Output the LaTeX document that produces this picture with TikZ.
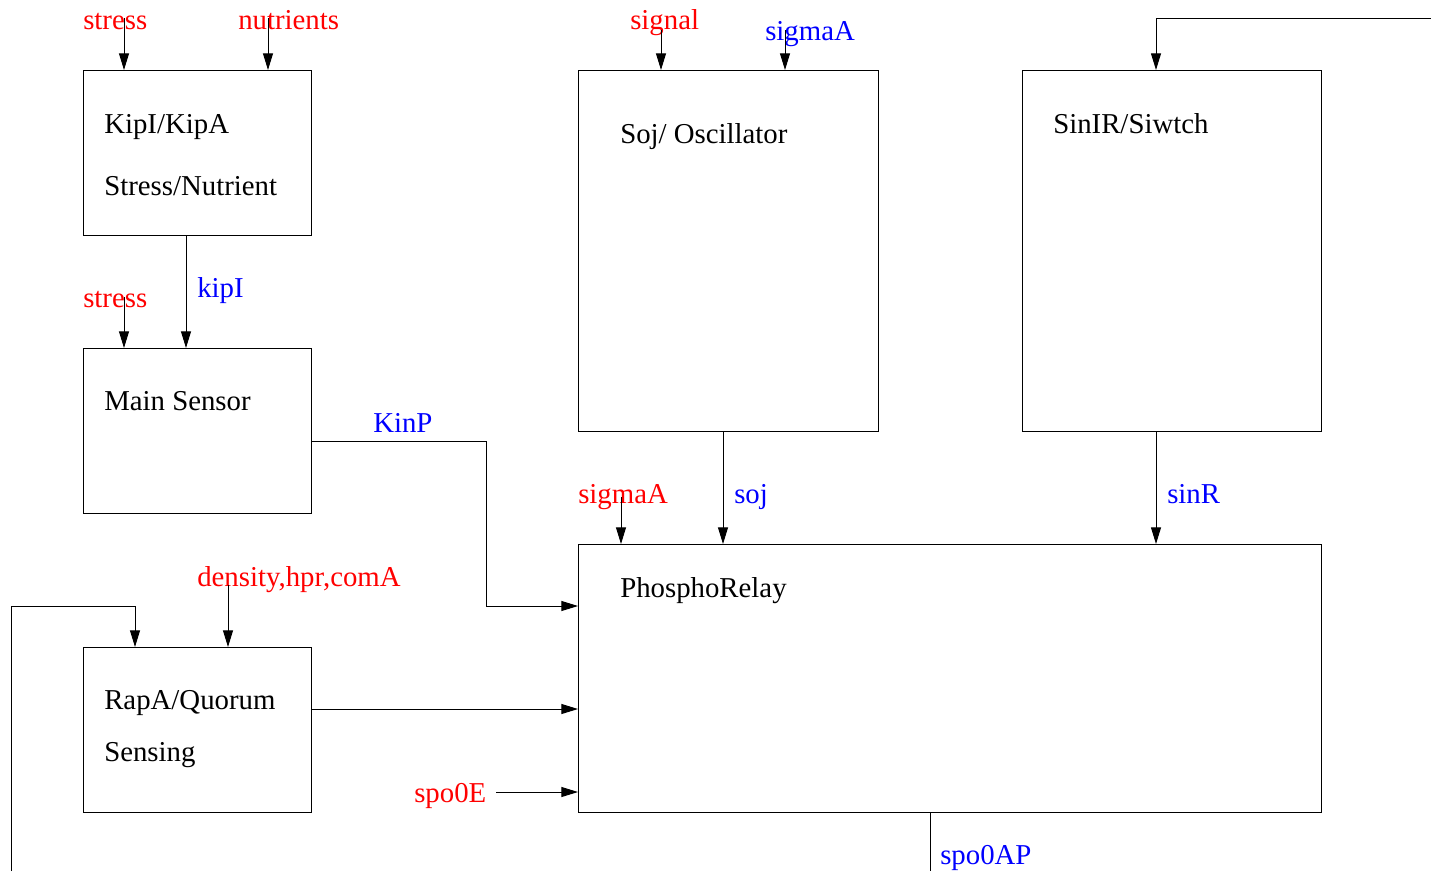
\documentclass[tikz,border=0pt]{standalone}
\usepackage{fontspec}
\setmainfont{Liberation Serif}
\usetikzlibrary{arrows.meta}
\begin{document}
\begin{tikzpicture}[x=0.75pt,y=-0.75pt,
  box/.style={draw,line width=0.75pt,rectangle,anchor=north west,inner sep=0pt},
  arr/.style={line width=0.75pt,-{Triangle[length=12.5pt,width=7.5pt]}},
  ln/.style={line width=0.75pt},
  txt/.style={anchor=base west,inner sep=0pt,font=\fontsize{21.6}{26}\selectfont},
  rd/.style={txt,text=red},
  bl/.style={txt,text=blue}]
\useasboundingbox (0,0) rectangle (1431,871);
% boxes
\node[box,minimum width=171pt,minimum height=123.75pt] (kip) at (83,70) {};
\node[box,minimum width=171pt,minimum height=123.75pt] (main) at (83,348) {};
\node[box,minimum width=171pt,minimum height=123.75pt] (rapa) at (83,647) {};
\node[box,minimum width=225pt,minimum height=270.75pt] (soj) at (578,70) {};
\node[box,minimum width=224.25pt,minimum height=270.75pt] (sin) at (1022,70) {};
\node[box,minimum width=557.25pt,minimum height=201pt] (phos) at (578,544) {};
% box texts
\node[txt] (t1) at (104,133) {KipI/KipA};
\node[txt] (t2) at (104,195) {Stress/Nutrient};
\node[txt] (t3) at (104,410) {Main Sensor};
\node[txt] (t4) at (104,709) {RapA/Quorum};
\node[txt] (t5) at (104,761) {Sensing};
\node[txt] (t6) at (620,143) {Soj/ Oscillator};
\node[txt] (t7) at (1053,133) {SinIR/Siwtch};
\node[txt] (t8) at (620,597) {PhosphoRelay};
% labels
\node[rd] (lstress1) at (83,29) {stress};
\node[rd] (lnutr) at (238,29) {nutrients};
\node[rd] (lstress2) at (83,307) {stress};
\node[bl] (lkipi) at (197,297) {kipI};
\node[bl] (lkinp) at (373,432) {KinP};
\node[rd] (lsignal) at (630,29) {signal};
\node[bl] (lsigA1) at (765,40) {sigmaA};
\node[rd] (lsigA2) at (578,503) {sigmaA};
\node[bl] (lsoj) at (734,503) {soj};
\node[bl] (lsinr) at (1167,503) {sinR};
\node[rd] (ldens) at (197,586) {density,hpr,comA};
\node[rd] (lspo0e) at (414,802) {spo0E};
\node[bl] (lspo0ap) at (940,864) {spo0AP};
% free ends
\coordinate (c1) at (124,18);
\coordinate (c2) at (268,18);
\coordinate (c3) at (124,297);
\coordinate (c4) at (186,0);
\coordinate (c5) at (661,30);
\coordinate (c6) at (785,30);
\coordinate (c7) at (621,497);
\coordinate (c8) at (723,0);
\coordinate (c9) at (1156,0);
\coordinate (c10) at (228,585);
\coordinate (fb1) at (1431,18);
\coordinate (fb2) at (11,871);
\coordinate (c11) at (496,792);
\coordinate (c12) at (930,871);
% connectors
\draw[arr] (c1) -- (c1 |- kip.north);
\draw[arr] (c2) -- (c2 |- kip.north);
\draw[arr] (c3) -- (c3 |- main.north);
\draw[arr] (kip.south -| c4) -- (main.north -| c4);
\draw[arr] (main.east |- 0,441) -- (486,441) -- (486,606) -- (phos.west |- 0,606);
\draw[arr] (c5) -- (c5 |- soj.north);
\draw[arr] (c6) -- (c6 |- soj.north);
\draw[arr] (c7) -- (c7 |- phos.north);
\draw[arr] (soj.south -| c8) -- (phos.north -| c8);
\draw[arr] (sin.south -| c9) -- (phos.north -| c9);
\draw[arr] (fb1) -- (c9 |- fb1) -- (sin.north -| c9);
\draw[arr] (c10) -- (c10 |- rapa.north);
\draw[arr] (fb2) -- (11,606) -- (135,606) -- (rapa.north -| 135,0);
\draw[arr] (rapa.east |- 0,709) -- (phos.west |- 0,709);
\draw[arr] (c11) -- (phos.west |- c11);
\draw[ln] (phos.south -| c12) -- (c12);
\end{tikzpicture}
\end{document}
